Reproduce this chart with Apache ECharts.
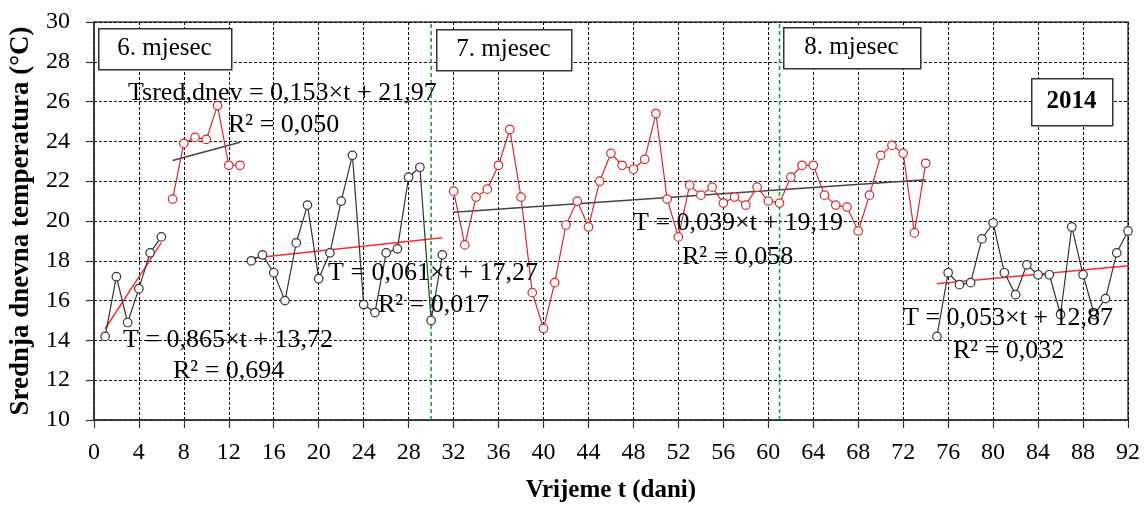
<!DOCTYPE html>
<html>
<head>
<meta charset="utf-8">
<script src="https://cdn.jsdelivr.net/npm/echarts@6/dist/echarts.min.js"></script>
<style>
html,body{margin:0;padding:0;background:#fff;}
#chart{width:1148px;height:508px;}
</style>
</head>
<body>
<div id="chart"></div>
<script>
// ---- data ----
const segStartDays = [1, 7, 14, 32, 75];
const temps1 = [14.2, 17.2, 14.9, 16.6, 18.4, 19.2];
const temps2 = [21.1, 23.9, 24.2, 24.1, 25.8, 22.8, 22.8];
const temps3 = [18.0, 18.3, 17.4, 16.0, 18.9, 20.8, 17.1, 18.4, 21.0, 23.3, 15.8, 15.4, 18.4, 18.6, 22.2, 22.7, 15.0, 18.3];
const temps4 = [21.5, 18.8, 21.2, 21.6, 22.8, 24.6, 21.2, 16.4, 14.6, 16.9, 19.8, 21.0, 19.7, 22.0, 23.4, 22.8, 22.6, 23.1, 25.4, 21.1,
                19.2, 21.8, 21.3, 21.7, 20.9, 21.2, 20.8, 21.7, 21.0, 20.9, 22.2, 22.8, 22.8, 21.3, 20.8, 20.7, 19.5, 21.3, 23.3, 23.8,
                23.4, 19.4, 22.9];
const temps5 = [14.2, 17.4, 16.8, 16.9, 19.1, 19.9, 17.4, 16.3, 17.8, 17.3, 17.3, 15.3, 19.7, 17.3, 15.3, 16.1, 18.4, 19.5];
const trendSlopes = [0.865, 0.153, 0.061, 0.039, 0.053];
const trendIntercepts = [13.72, 21.97, 17.27, 19.19, 12.87];
const monthBoundaries = [30, 61];
const yRange = [10, 30];
const monthLabels = ['6. mjesec', '7. mjesec', '8. mjesec'];
const yearLabel = '2014';
const eqLabels = ['T = 0,865×t + 13,72', 'Tsred,dnev = 0,153×t + 21,97', 'T = 0,061×t + 17,27', 'T = 0,039×t + 19,19', 'T = 0,053×t + 12,87'];
const r2Labels = ['R² = 0,694', 'R² = 0,050', 'R² = 0,017', 'R² = 0,058', 'R² = 0,032'];
const xTitle = 'Vrijeme t (dani)';
const yTitle = 'Srednja dnevna temperatura (°C)';

// ---- styles ----
const segs = [temps1, temps2, temps3, temps4, temps5];
const BLACK = '#333333', RED = '#d42a2a';
const lineColors = [BLACK, RED, BLACK, RED, BLACK];
const trendColors = ['#ff2a2a', '#444444', '#ff2a2a', '#444444', '#ff2a2a'];
const FONT = '"Liberation Serif", "Times New Roman", serif';

const series = [];
monthBoundaries.forEach(x => {
  series.push({
    type: 'line',
    data: [[x, yRange[0]], [x, yRange[1]]],
    symbol: 'none', silent: true,
    lineStyle: { color: '#17a04a', type: [4, 3], width: 1.6 },
    z: 1, animation: false
  });
});
segs.forEach((vals, k) => {
  const s = segStartDays[k];
  series.push({
    type: 'line',
    data: vals.map((v, i) => [s + i, v]),
    symbol: 'circle', symbolSize: 8.5,
    itemStyle: { color: '#fff', borderColor: lineColors[k], borderWidth: 1.2 },
    lineStyle: { color: lineColors[k], width: 1.2 },
    z: 3, animation: false
  });
  const e = s + vals.length - 1;
  series.push({
    type: 'line',
    data: [[s, trendSlopes[k] * s + trendIntercepts[k]], [e, trendSlopes[k] * e + trendIntercepts[k]]],
    symbol: 'none',
    lineStyle: { color: trendColors[k], width: 1.5 },
    z: 2, animation: false
  });
});

// annotation placements (pixels)
const boxPos = [[98, 28, 133, 41], [436, 29, 135, 41], [783, 27, 137, 41]];
const eqPos = [[123, 340], [128, 93], [328, 273], [633, 223], [903, 318]];
const r2Pos = [[173, 371], [228, 125], [378, 305], [682, 257], [953, 351]];

const graphic = [];
monthLabels.forEach((t, i) => {
  const [x, y, w, h] = boxPos[i];
  graphic.push({ type: 'rect', left: x, top: y, shape: { width: w, height: h }, style: { fill: '#fff', stroke: '#333', lineWidth: 1.5 }, z: 10 });
  graphic.push({ type: 'text', x: x + w / 2, y: y + h / 2, style: { text: t, font: '25px ' + FONT, fill: '#000', align: 'center', verticalAlign: 'middle' }, z: 11 });
});
graphic.push({ type: 'rect', left: 1031, top: 78, shape: { width: 81, height: 47 }, style: { fill: '#fff', stroke: '#333', lineWidth: 1.5 }, z: 10 });
graphic.push({ type: 'text', x: 1071.5, y: 101.5, style: { text: yearLabel, font: 'bold 25px ' + FONT, fill: '#000', align: 'center', verticalAlign: 'middle' }, z: 11 });
eqLabels.forEach((t, i) => {
  graphic.push({ type: 'text', x: eqPos[i][0], y: eqPos[i][1], style: { text: t, font: '26px ' + FONT, fill: '#000', align: 'left', verticalAlign: 'middle' }, z: 12 });
  graphic.push({ type: 'text', x: r2Pos[i][0], y: r2Pos[i][1], style: { text: r2Labels[i], font: '26px ' + FONT, fill: '#000', align: 'left', verticalAlign: 'middle' }, z: 12 });
});

const chart = echarts.init(document.getElementById('chart'), null, { renderer: 'canvas' });
chart.setOption({
  animation: false,
  backgroundColor: '#fff',
  grid: { left: 88, right: 20, top: 22, bottom: 86, show: true, borderColor: '#444', borderWidth: 1.5, backgroundColor: 'transparent' },
  xAxis: {
    type: 'value', min: 0, max: 92, interval: 4,
    name: xTitle, nameLocation: 'middle', nameGap: 58,
    nameTextStyle: { fontFamily: FONT, fontSize: 25, fontWeight: 'bold', color: '#000' },
    axisLine: { show: true, lineStyle: { color: '#333', width: 1.5 } },
    axisTick: { show: true, inside: false, length: 8, lineStyle: { color: '#333', width: 1.2 } },
    axisLabel: { fontFamily: FONT, fontSize: 24, color: '#000', margin: 21 },
    splitLine: { show: true, lineStyle: { color: '#000', type: [3, 2], width: 1 } }
  },
  yAxis: {
    type: 'value', min: yRange[0], max: yRange[1], interval: 2,
    name: yTitle, nameLocation: 'middle', nameGap: 53, nameRotate: 90,
    nameTextStyle: { fontFamily: FONT, fontSize: 27, fontWeight: 'bold', color: '#000' },
    axisLine: { show: true, lineStyle: { color: '#333', width: 1.5 } },
    axisTick: { show: true, inside: false, length: 8, lineStyle: { color: '#333', width: 1.2 } },
    axisLabel: { fontFamily: FONT, fontSize: 24, color: '#000', margin: 24 },
    splitLine: { show: true, lineStyle: { color: '#000', type: [3, 2], width: 1 } }
  },
  series: series,
  graphic: graphic
});
</script>
</body>
</html>
